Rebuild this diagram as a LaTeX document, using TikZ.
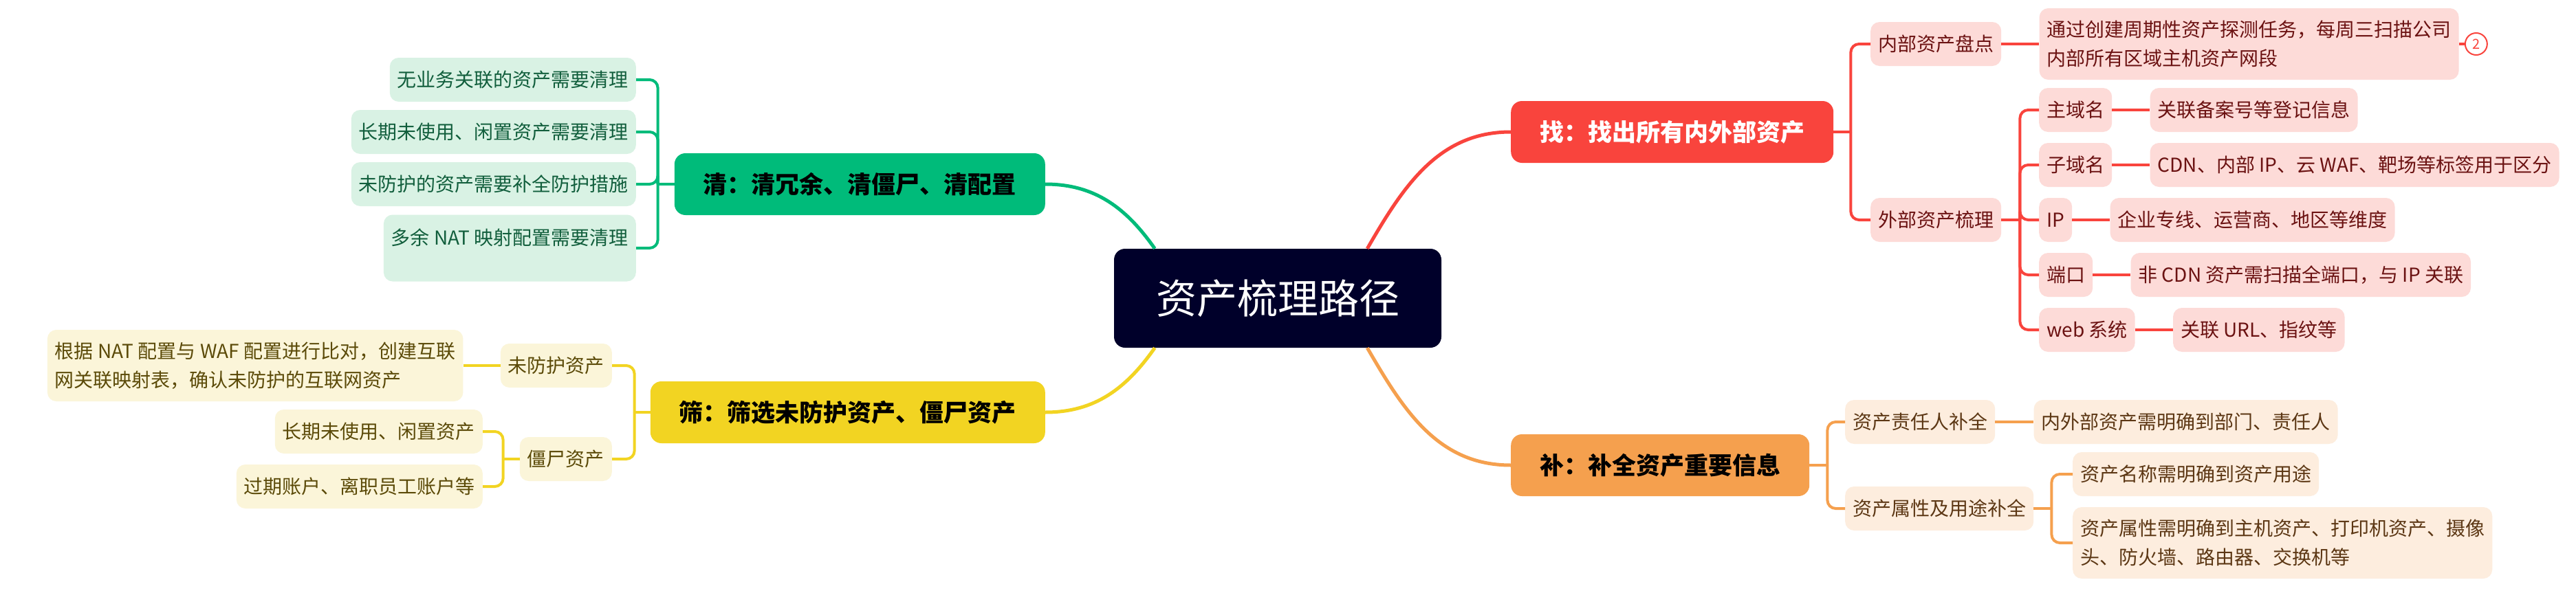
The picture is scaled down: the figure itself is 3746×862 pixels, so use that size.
\documentclass[tikz,border=0pt]{standalone}
\usepackage{fontspec}
\setmainfont{Noto Sans CJK SC}
\usetikzlibrary{positioning}

\definecolor{rootnavy}{HTML}{00002A}
\definecolor{qgreen}{HTML}{00BB7A}
\definecolor{qgreenl}{HTML}{D9F2E4}
\definecolor{qgreent}{HTML}{115E3C}
\definecolor{syellow}{HTML}{F2D422}
\definecolor{syellowl}{HTML}{FBF5D9}
\definecolor{syellowt}{HTML}{5B4A08}
\definecolor{zred}{HTML}{F9443D}
\definecolor{zredl}{HTML}{FDDBD8}
\definecolor{zredt}{HTML}{6B1212}
\definecolor{borange}{HTML}{F5A04E}
\definecolor{borangel}{HTML}{FDEDDE}
\definecolor{borranget}{HTML}{5C3714}

\begin{document}
\begin{tikzpicture}[x=1pt,y=1pt,
    mainbox/.style={rounded corners=16pt, minimum height=90pt, inner xsep=42pt, font=\fontsize{35}{42}\selectfont\bfseries},
    subbox/.style={rounded corners=13pt, minimum height=64pt, inner xsep=11pt, inner ysep=0pt, align=left, font=\fontsize{28}{42}\selectfont},
    tallbox/.style={minimum height=104pt},
    gmain/.style={mainbox, fill=qgreen, text=black},
    gsub/.style={subbox, fill=qgreenl, text=qgreent},
    gline/.style={draw=qgreen, line width=4pt},
    smain/.style={mainbox, fill=syellow, text=black},
    ssub/.style={subbox, fill=syellowl, text=syellowt},
    sline/.style={draw=syellow, line width=4pt},
    zmain/.style={mainbox, fill=zred, text=white},
    zsub/.style={subbox, fill=zredl, text=zredt},
    zline/.style={draw=zred, line width=4pt},
    bmain/.style={mainbox, fill=borange, text=black},
    bsub/.style={subbox, fill=borangel, text=borranget},
    bline/.style={draw=borange, line width=4pt}]

    \fill[white] (0,0) rectangle (3746,-862);
    \useasboundingbox (0,0) rectangle (3746,-862);

    % centre
    \node[fill=rootnavy, text=white, rounded corners=16pt, minimum height=144pt, inner xsep=61pt,
          font=\fontsize{59}{70}\selectfont] (root) at (1858,-434) {资产梳理路径};

    % qing
    \node[gmain, anchor=east] (qing) at (1520,-268) {清：清冗余、清僵尸、清配置};
    \node[gsub, anchor=east] (q1) at (925,-116) {无业务关联的资产需要清理};
    \node[gsub, anchor=east] (q2) at (925,-192) {长期未使用、闲置资产需要清理};
    \node[gsub, anchor=east] (q3) at (925,-268) {未防护的资产需要补全防护措施};
    \node[gsub, anchor=east, text height=44pt, text depth=53pt] (q4) at (925,-361) {多余 NAT 映射配置需要清理};

    % shai
    \node[smain, anchor=east] (shai) at (1520,-600) {筛：筛选未防护资产、僵尸资产};
    \node[ssub, anchor=east] (s1) at (890,-532) {未防护资产};
    \node[ssub, tallbox, left=54pt of s1] (s1a) {根据 NAT 配置与 WAF 配置进行比对，创建互联\\网关联映射表，确认未防护的互联网资产};
    \node[ssub, anchor=east] (s2) at (890,-668) {僵尸资产};
    \node[ssub, anchor=east] (s21) at (702,-628) {长期未使用、闲置资产};
    \node[ssub, anchor=east] (s22) at (702,-708) {过期账户、离职员工账户等};

    % zhao
    \node[zmain, anchor=west] (zhao) at (2197,-192) {找：找出所有内外部资产};
    \node[zsub, anchor=west] (z1) at (2720,-64) {内部资产盘点};
    \node[zsub, tallbox, right=55pt of z1] (z1a) {通过创建周期性资产探测任务，每周三扫描公司\\内部所有区域主机资产网段};
    \node[circle, draw=zred, line width=2pt, fill=white, text=zred, minimum size=32pt, inner sep=0pt,
          font=\fontsize{20}{20}\selectfont, right=8pt of z1a] (badge) {2};
    \node[zsub, anchor=west] (z2) at (2720,-320) {外部资产梳理};
    \node[zsub, anchor=west] (z21) at (2965,-160) {主域名};
    \node[zsub, anchor=west] (z22) at (2965,-240) {子域名};
    \node[zsub, anchor=west] (z23) at (2965,-320) {IP};
    \node[zsub, anchor=west] (z24) at (2965,-400) {端口};
    \node[zsub, anchor=west] (z25) at (2965,-480) {web 系统};
    \node[zsub, right=55pt of z21] (z21a) {关联备案号等登记信息};
    \node[zsub, right=55pt of z22] (z22a) {CDN、内部 IP、云 WAF、靶场等标签用于区分};
    \node[zsub, right=55pt of z23] (z23a) {企业专线、运营商、地区等维度};
    \node[zsub, right=55pt of z24] (z24a) {非 CDN 资产需扫描全端口，与 IP 关联};
    \node[zsub, right=55pt of z25] (z25a) {关联 URL、指纹等};

    % bu
    \node[bmain, anchor=west] (bu) at (2197,-677) {补：补全资产重要信息};
    \node[bsub, anchor=west] (b1) at (2683,-614) {资产责任人补全};
    \node[bsub, right=56pt of b1] (b1a) {内外部资产需明确到部门、责任人};
    \node[bsub, anchor=west] (b2) at (2683,-740) {资产属性及用途补全};
    \node[bsub, anchor=west] (b21) at (3014,-690) {资产名称需明确到资产用途};
    \node[bsub, tallbox, anchor=west] (b22) at (3014,-790) {资产属性需明确到主机资产、打印机资产、摄像\\头、防火墙、路由器、交换机等};

    % main branches
    \draw[gline, line width=5pt] (qing.east) to[out=0, in=125] (root.158);
    \draw[sline, line width=5pt] (shai.east) to[out=0, in=235] (root.202);
    \draw[zline, line width=5pt] (zhao.west) to[out=180, in=60] (root.29);
    \draw[bline, line width=5pt] (bu.west) to[out=180, in=300] (root.331);

    % brackets
    \coordinate (qb) at ([xshift=-24pt]qing.west);
    \draw[gline] (qing.west) -- (qb);
    \foreach \c in {q1,q2,q3,q4} \draw[gline, rounded corners=12pt] (qb) |- (\c.east);

    \coordinate (sb) at ([xshift=-23pt]shai.west);
    \draw[sline] (shai.west) -- (sb);
    \foreach \c in {s1,s2} \draw[sline, rounded corners=12pt] (sb) |- (\c.east);
    \draw[sline] (s1.west) -- (s1a.east);
    \coordinate (s2b) at ([xshift=-24pt]s2.west);
    \draw[sline] (s2.west) -- (s2b);
    \foreach \c in {s21,s22} \draw[sline, rounded corners=12pt] (s2b) |- (\c.east);

    \coordinate (zb) at ([xshift=25pt]zhao.east);
    \draw[zline] (zhao.east) -- (zb);
    \foreach \c in {z1,z2} \draw[zline, rounded corners=12pt] (zb) |- (\c.west);
    \draw[zline] (z1.east) -- (z1a.west);
    \draw[zline] (z1a.east) -- (badge.west);
    \coordinate (z2b) at ([xshift=27pt]z2.east);
    \draw[zline] (z2.east) -- (z2b);
    \foreach \c in {z21,z22,z23,z24,z25} {
        \draw[zline, rounded corners=12pt] (z2b) |- (\c.west);
        \draw[zline] (\c.east) -- (\c a.west);
    }

    \coordinate (bb) at ([xshift=26pt]bu.east);
    \draw[bline] (bu.east) -- (bb);
    \foreach \c in {b1,b2} \draw[bline, rounded corners=12pt] (bb) |- (\c.west);
    \draw[bline] (b1.east) -- (b1a.west);
    \coordinate (b2b) at ([xshift=26pt]b2.east);
    \draw[bline] (b2.east) -- (b2b);
    \foreach \c in {b21,b22} \draw[bline, rounded corners=12pt] (b2b) |- (\c.west);
\end{tikzpicture}
\end{document}
